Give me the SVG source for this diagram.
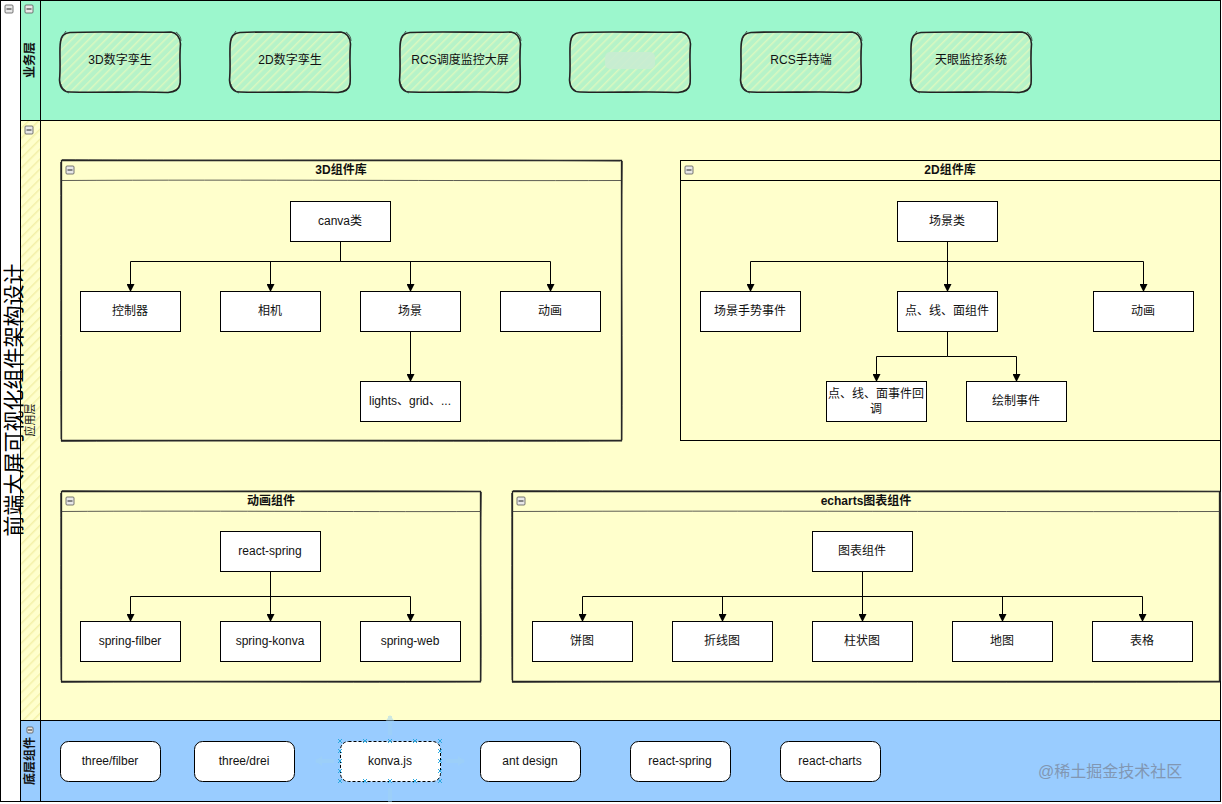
<svg xmlns="http://www.w3.org/2000/svg" width="1222" height="804" viewBox="0 0 1222 804">
<defs>
<style>
text{font-family:"Liberation Sans","Noto Sans CJK SC",sans-serif;font-size:12px;fill:#111;}
.c{text-anchor:middle;}
.b{font-weight:bold;}
.box{fill:#fff;stroke:#000;stroke-width:1;}
.rbox{fill:#fff;stroke:#000;stroke-width:1;}
.edge{fill:none;stroke:#000;stroke-width:1;}
.lane{stroke:#000;stroke-width:1;}
.icon{fill:#e8e8e8;stroke:#555;stroke-width:0.8;}
.sk{fill:none;stroke:#222;stroke-width:1.6;}
.sk2{fill:none;stroke:#333;stroke-width:0.8;}
.hdl{stroke:#29a8e0;stroke-width:1;}
</style>
<pattern id="hatchG" patternUnits="userSpaceOnUse" width="6" height="6" patternTransform="rotate(45)">
<rect width="6" height="6" fill="#b6f3c8"/>
<line x1="0" y1="0" x2="0" y2="6" stroke="#daf8c0" stroke-width="3"/>
</pattern>
<pattern id="hatchY" patternUnits="userSpaceOnUse" width="7" height="7" patternTransform="rotate(45)">
<rect width="7" height="7" fill="#ffffcc"/>
<line x1="0" y1="0" x2="0" y2="7" stroke="#f3f0a8" stroke-width="3"/>
</pattern>
<marker id="arr" markerWidth="8" markerHeight="8" refX="7" refY="4" orient="auto" markerUnits="userSpaceOnUse">
<path d="M0,0 L8,4 L0,8 Z" fill="#000"/>
</marker>
<marker id="barr" markerWidth="12" markerHeight="12" refX="6" refY="6" orient="auto" markerUnits="userSpaceOnUse">
<path d="M0,1 L7,6 L0,11 Z" fill="#9fd3f5"/>
</marker>
</defs>

<!-- pool & lanes -->
<g id="pool">
<rect x="0.5" y="0.5" width="1220" height="801" fill="#fff" stroke="#000"/>
<rect x="40" y="0.5" width="1180.5" height="119.5" fill="#9cf7cd"/>
<rect x="20" y="0.5" width="20" height="119.5" fill="#9cf7cd"/>
<rect x="40" y="120" width="1180.5" height="600" fill="#ffffcc"/>
<rect x="20" y="120" width="20" height="600" fill="url(#hatchY)"/>
<rect x="20" y="720" width="1200.5" height="81.5" fill="#99ccff"/>
<line class="lane" x1="20.5" y1="0" x2="20.5" y2="802"/>
<line class="lane" x1="40.5" y1="0" x2="40.5" y2="802"/>
<line class="lane" x1="20" y1="120.5" x2="1221" y2="120.5" stroke-width="1.5"/>
<line class="lane" x1="20" y1="720.5" x2="1221" y2="720.5" stroke-width="1.5"/>
<rect x="0.5" y="0.5" width="1220" height="801" fill="none" stroke="#000"/>
<rect class="icon" x="5" y="5" width="8" height="8" rx="1"/><line x1="6.5" y1="9" x2="11.5" y2="9" stroke="#222"/>
<rect class="icon" x="25" y="5" width="8" height="8" rx="1"/><line x1="26.5" y1="9" x2="31.5" y2="9" stroke="#222"/>
<rect class="icon" x="25" y="126" width="8" height="8" rx="1"/><line x1="26.5" y1="130" x2="31.5" y2="130" stroke="#222"/>
<rect class="icon" x="27" y="727" width="6" height="6" rx="1"/><line x1="28" y1="730" x2="32" y2="730" stroke="#222"/>
<text class="c" transform="translate(20.5,400) rotate(-90)" style="font-size:21px;fill:#000">前端大屏可视化组件架构设计</text>
<text class="c b" transform="translate(34,60) rotate(-90)">业务层</text>
<text class="c" transform="translate(34,420) rotate(-90)" style="font-size:11px">应用层</text>
<text class="c b" transform="translate(34,761) rotate(-90)">底层组件</text>
</g>

<!-- business layer nodes -->
<g id="biz-3d">
<rect x="60" y="32" width="120" height="60" rx="10" fill="url(#hatchG)"/>
<path class="sk" d="M70,32.5 C100,31 150,33 171,32 C178,33 180,38 180.5,44 C179,60 181,75 180,84 C179,90 175,92 168,92.5 C140,91 100,93 70,92 C63,92 60,88 59.5,80 C61,65 59,50 60.5,42 C61,36 64,33 70,32.5"/>
<path class="sk2" d="M66,31 C64,34 62,36 61,40 M176,32 C179,34 181,37 181,41 M61,84 C62,88 64,91 69,93"/>
<text class="c" x="120" y="64">3D数字孪生</text>
</g>
<g id="biz-2d">
<rect x="230" y="32" width="120" height="60" rx="10" fill="url(#hatchG)"/>
<path class="sk" d="M240,32.5 C270,31 320,33 341,32 C348,33 350,38 350.5,44 C349,60 351,75 350,84 C349,90 345,92 338,92.5 C310,91 270,93 240,92 C233,92 230,88 229.5,80 C231,65 229,50 230.5,42 C231,36 234,33 240,32.5"/>
<path class="sk2" d="M236,31 C234,34 232,36 231,40 M346,32 C349,34 351,37 351,41 M231,84 C232,88 234,91 239,93"/>
<text class="c" x="290" y="64">2D数字孪生</text>
</g>
<g id="biz-rcs">
<rect x="400" y="32" width="120" height="60" rx="10" fill="url(#hatchG)"/>
<path class="sk" d="M410,32.5 C440,31 490,33 511,32 C518,33 520,38 520.5,44 C519,60 521,75 520,84 C519,90 515,92 508,92.5 C480,91 440,93 410,92 C403,92 400,88 399.5,80 C401,65 399,50 400.5,42 C401,36 404,33 410,32.5"/>
<path class="sk2" d="M406,31 C404,34 402,36 401,40 M516,32 C519,34 521,37 521,41 M401,84 C402,88 404,91 409,93"/>
<text class="c" x="460" y="64">RCS调度监控大屏</text>
</g>
<g id="biz-hidden">
<rect x="570" y="32" width="120" height="60" rx="10" fill="url(#hatchG)"/>
<path class="sk" d="M580,32.5 C610,31 660,33 681,32 C688,33 690,38 690.5,44 C689,60 691,75 690,84 C689,90 685,92 678,92.5 C650,91 610,93 580,92 C573,92 570,88 569.5,80 C571,65 569,50 570.5,42 C571,36 574,33 580,32.5"/>
<rect x="605" y="52" width="50" height="17" rx="5" fill="#c9ecd2" opacity="0.9"/>
</g>
<g id="biz-rcs-hand">
<rect x="741" y="32" width="120" height="60" rx="10" fill="url(#hatchG)"/>
<path class="sk" d="M751,32.5 C781,31 831,33 852,32 C859,33 861,38 861.5,44 C860,60 862,75 861,84 C860,90 856,92 849,92.5 C821,91 781,93 751,92 C744,92 741,88 740.5,80 C742,65 740,50 741.5,42 C742,36 745,33 751,32.5"/>
<path class="sk2" d="M747,31 C745,34 743,36 742,40 M857,32 C860,34 862,37 862,41 M742,84 C743,88 745,91 750,93"/>
<text class="c" x="801" y="64">RCS手持端</text>
</g>
<g id="biz-tianyan">
<rect x="911" y="32" width="120" height="60" rx="10" fill="url(#hatchG)"/>
<path class="sk" d="M921,32.5 C951,31 1001,33 1022,32 C1029,33 1031,38 1031.5,44 C1030,60 1032,75 1031,84 C1030,90 1026,92 1019,92.5 C991,91 951,93 921,92 C914,92 911,88 910.5,80 C912,65 910,50 911.5,42 C912,36 915,33 921,32.5"/>
<path class="sk2" d="M917,31 C915,34 913,36 912,40 M1027,32 C1030,34 1032,37 1032,41 M912,84 C913,88 915,91 920,93"/>
<text class="c" x="971" y="64">天眼监控系统</text>
</g>

<!-- containers -->
<g id="lib-3d">
<path d="M61.5,160.5 L621.5,160.5 L621.5,440.5 L61.5,440.5 Z" fill="none" stroke="#222" stroke-width="1.3"/>
<path d="M62,159.5 C200,161 420,159 620,161 M61.5,180.5 C250,179.5 450,181 621,180.5 M60.5,162 C61,250 60,350 61,439 M622.5,161 C621,250 623,350 622,440 M61,441.5 C250,440 450,442 622,441" class="sk2"/>
<rect class="icon" x="66" y="166" width="8" height="8" rx="1"/><line x1="67.5" y1="170" x2="72.5" y2="170" stroke="#222"/>
<text class="c b" x="341" y="174">3D组件库</text>
</g>
<g id="lib-2d">
<rect x="680.5" y="160.5" width="540" height="280" fill="none" stroke="#000"/>
<line x1="680.5" y1="180.5" x2="1220.5" y2="180.5" stroke="#000"/>
<rect class="icon" x="685" y="166" width="8" height="8" rx="1"/><line x1="686.5" y1="170" x2="691.5" y2="170" stroke="#222"/>
<text class="c b" x="950" y="174">2D组件库</text>
</g>
<g id="lib-anim">
<path d="M61.5,491.5 L480.5,491.5 L480.5,681.5 L61.5,681.5 Z" fill="none" stroke="#222" stroke-width="1.3"/>
<path d="M62,490.5 C200,492 350,490 480,491.5 M61.5,511.5 C200,510.5 350,512 481,511.5 M60.5,493 C61,560 60,620 61,680 M481.5,492 C480,560 482,620 481,681 M61,682.5 C200,681 350,683 481,682" class="sk2"/>
<rect class="icon" x="66" y="497" width="8" height="8" rx="1"/><line x1="67.5" y1="501" x2="72.5" y2="501" stroke="#222"/>
<text class="c b" x="271" y="505">动画组件</text>
</g>
<g id="lib-echarts">
<path d="M512.5,491.5 L1219.5,491.5 L1219.5,681.5 L512.5,681.5 Z" fill="none" stroke="#222" stroke-width="1.3"/>
<path d="M513,490.5 C750,492 1000,490 1219,491.5 M512.5,511.5 C750,510.5 1000,512 1220,511.5 M511.5,493 C512,560 511,620 512,680 M1220.5,492 C1219,560 1221,620 1220,681 M512,682.5 C750,681 1000,683 1220,682" class="sk2"/>
<rect class="icon" x="517" y="497" width="8" height="8" rx="1"/><line x1="518.5" y1="501" x2="523.5" y2="501" stroke="#222"/>
<text class="c b" x="866" y="505">echarts图表组件</text>
</g>

<!-- connectors -->
<g id="connectors">
<path class="edge" d="M340.5,241 V261.5 H130.5 V291" marker-end="url(#arr)"/>
<path class="edge" d="M340.5,261.5 H270.5 V291" marker-end="url(#arr)"/>
<path class="edge" d="M340.5,261.5 H410.5 V291" marker-end="url(#arr)"/>
<path class="edge" d="M340.5,261.5 H550.5 V291" marker-end="url(#arr)"/>
<path class="edge" d="M410.5,331 V381" marker-end="url(#arr)"/>
<path class="edge" d="M947.5,241 V291" marker-end="url(#arr)"/>
<path class="edge" d="M947.5,261.5 H750.5 V291" marker-end="url(#arr)"/>
<path class="edge" d="M947.5,261.5 H1143.5 V291" marker-end="url(#arr)"/>
<path class="edge" d="M947.5,331 V356.5 H876.5 V381" marker-end="url(#arr)"/>
<path class="edge" d="M947.5,356.5 H1016.5 V381" marker-end="url(#arr)"/>
<path class="edge" d="M270.5,571 V621" marker-end="url(#arr)"/>
<path class="edge" d="M270.5,596.5 H130.5 V621" marker-end="url(#arr)"/>
<path class="edge" d="M270.5,596.5 H410.5 V621" marker-end="url(#arr)"/>
<path class="edge" d="M862.5,571 V621" marker-end="url(#arr)"/>
<path class="edge" d="M862.5,596.5 H582.5 V621" marker-end="url(#arr)"/>
<path class="edge" d="M862.5,596.5 H722.5 V621" marker-end="url(#arr)"/>
<path class="edge" d="M862.5,596.5 H1002.5 V621" marker-end="url(#arr)"/>
<path class="edge" d="M862.5,596.5 H1142.5 V621" marker-end="url(#arr)"/>
</g>

<!-- 3D nodes -->
<g id="n-canva"><rect class="box" x="290.5" y="201.5" width="100" height="40"/><text class="c" x="340" y="225">canva类</text></g>
<g id="n-controller"><rect class="box" x="80.5" y="291.5" width="100" height="40"/><text class="c" x="130" y="315">控制器</text></g>
<g id="n-camera"><rect class="box" x="220.5" y="291.5" width="100" height="40"/><text class="c" x="270" y="315">相机</text></g>
<g id="n-scene"><rect class="box" x="360.5" y="291.5" width="100" height="40"/><text class="c" x="410" y="315">场景</text></g>
<g id="n-anim3d"><rect class="box" x="500.5" y="291.5" width="100" height="40"/><text class="c" x="550" y="315">动画</text></g>
<g id="n-lights"><rect class="box" x="360.5" y="381.5" width="100" height="40"/><text class="c" x="410" y="405">lights、grid、...</text></g>

<!-- 2D nodes -->
<g id="n-sceneclass"><rect class="box" x="897.5" y="201.5" width="100" height="40"/><text class="c" x="947" y="225">场景类</text></g>
<g id="n-gesture"><rect class="box" x="700.5" y="291.5" width="100" height="40"/><text class="c" x="750" y="315">场景手势事件</text></g>
<g id="n-plf"><rect class="box" x="897.5" y="291.5" width="100" height="40"/><text class="c" x="947" y="315">点、线、面组件</text></g>
<g id="n-anim2d"><rect class="box" x="1093.5" y="291.5" width="100" height="40"/><text class="c" x="1143" y="315">动画</text></g>
<g id="n-plfcb"><rect class="box" x="826.5" y="381.5" width="100" height="40"/><text class="c" x="876" y="398">点、线、面事件回</text><text class="c" x="876" y="413">调</text></g>
<g id="n-draw"><rect class="box" x="966.5" y="381.5" width="100" height="40"/><text class="c" x="1016" y="405">绘制事件</text></g>

<!-- animation nodes -->
<g id="n-reactspring"><rect class="box" x="220.5" y="531.5" width="100" height="40"/><text class="c" x="270" y="555">react-spring</text></g>
<g id="n-sfilber"><rect class="box" x="80.5" y="621.5" width="100" height="40"/><text class="c" x="130" y="645">spring-filber</text></g>
<g id="n-skonva"><rect class="box" x="220.5" y="621.5" width="100" height="40"/><text class="c" x="270" y="645">spring-konva</text></g>
<g id="n-sweb"><rect class="box" x="360.5" y="621.5" width="100" height="40"/><text class="c" x="410" y="645">spring-web</text></g>

<!-- echarts nodes -->
<g id="n-chart"><rect class="box" x="812.5" y="531.5" width="100" height="40"/><text class="c" x="862" y="555">图表组件</text></g>
<g id="n-pie"><rect class="box" x="532.5" y="621.5" width="100" height="40"/><text class="c" x="582" y="645">饼图</text></g>
<g id="n-line"><rect class="box" x="672.5" y="621.5" width="100" height="40"/><text class="c" x="722" y="645">折线图</text></g>
<g id="n-bar"><rect class="box" x="812.5" y="621.5" width="100" height="40"/><text class="c" x="862" y="645">柱状图</text></g>
<g id="n-map"><rect class="box" x="952.5" y="621.5" width="100" height="40"/><text class="c" x="1002" y="645">地图</text></g>
<g id="n-table"><rect class="box" x="1092.5" y="621.5" width="100" height="40"/><text class="c" x="1142" y="645">表格</text></g>

<!-- base layer nodes -->
<g id="n-threefilber"><rect class="rbox" x="60.5" y="741.5" width="100" height="40" rx="8"/><text class="c" x="110" y="765">three/filber</text></g>
<g id="n-threedrei"><rect class="rbox" x="194.5" y="741.5" width="100" height="40" rx="8"/><text class="c" x="244" y="765">three/drei</text></g>
<g id="n-konva">
<g opacity="0.5">
<line x1="334" y1="761" x2="316" y2="761" stroke="#9fd3f5" stroke-width="4" marker-end="url(#barr)"/>
<line x1="446" y1="761" x2="464" y2="761" stroke="#9fd3f5" stroke-width="4" marker-end="url(#barr)"/>
<line x1="390" y1="735" x2="390" y2="716" stroke="#9fd3f5" stroke-width="4" marker-end="url(#barr)"/>
<line x1="390" y1="788" x2="390" y2="802" stroke="#9fd3f5" stroke-width="4"/>
</g>
<rect class="rbox" x="340.5" y="741.5" width="100" height="40" rx="8" stroke-dasharray="3 2"/>
<text class="c" x="390" y="765">konva.js</text>
<g class="hdl">
<path d="M338,739 l4,4 m0,-4 l-4,4 M363,739 l4,4 m0,-4 l-4,4 M388,739 l4,4 m0,-4 l-4,4 M413,739 l4,4 m0,-4 l-4,4 M438,739 l4,4 m0,-4 l-4,4"/>
<path d="M338,779 l4,4 m0,-4 l-4,4 M363,779 l4,4 m0,-4 l-4,4 M388,779 l4,4 m0,-4 l-4,4 M413,779 l4,4 m0,-4 l-4,4 M438,779 l4,4 m0,-4 l-4,4"/>
<path d="M338,749 l4,4 m0,-4 l-4,4 M338,759 l4,4 m0,-4 l-4,4 M338,769 l4,4 m0,-4 l-4,4 M438,749 l4,4 m0,-4 l-4,4 M438,759 l4,4 m0,-4 l-4,4 M438,769 l4,4 m0,-4 l-4,4"/>
</g>
</g>
<g id="n-antd"><rect class="rbox" x="480.5" y="741.5" width="100" height="40" rx="8"/><text class="c" x="530" y="765">ant design</text></g>
<g id="n-rspring"><rect class="rbox" x="630.5" y="741.5" width="100" height="40" rx="8"/><text class="c" x="680" y="765">react-spring</text></g>
<g id="n-rcharts"><rect class="rbox" x="780.5" y="741.5" width="100" height="40" rx="8"/><text class="c" x="830" y="765">react-charts</text></g>

<text x="1038" y="777" style="font-size:16px;fill:#7d8ea6;opacity:0.85">@稀土掘金技术社区</text>
</svg>
